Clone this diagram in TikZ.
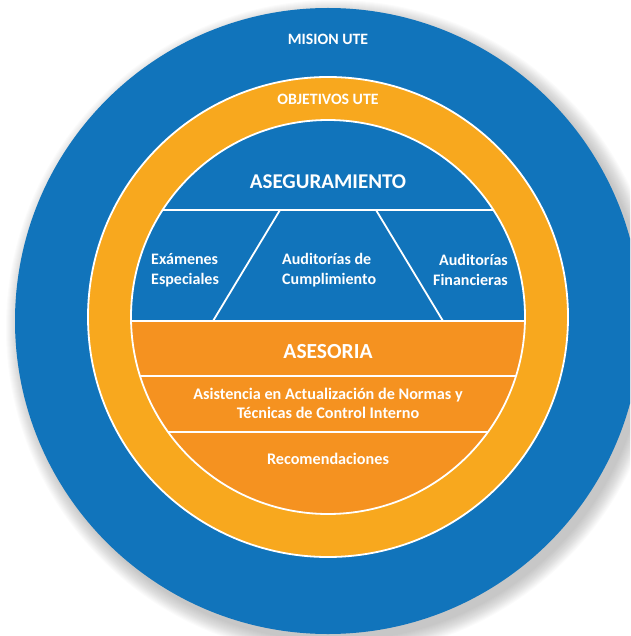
\documentclass[tikz,border=0pt]{standalone}
\usepackage{fontspec}
\setmainfont{Carlito}
\definecolor{uteblue}{RGB}{17,116,187}
\definecolor{ringorange}{RGB}{248,168,30}
\definecolor{coreorange}{RGB}{245,146,32}
\tikzset{
  lbl/.style={text=white, font=\bfseries, inner sep=0pt, align=center},
  sep/.style={draw=white, line width=1.8pt},
}
\begin{document}
\begin{tikzpicture}[x=1pt,y=-1pt]
\useasboundingbox (0,0) rectangle (630,636);
\clip (0,0) rectangle (630,636);
% soft shadow
\foreach \k in {1,...,16}{
  \fill[black, opacity=0.016] (334,328) circle[radius={312pt+\k pt}];
}
% outer blue circle
\fill[uteblue] (328,321) circle[radius=313pt];
% orange ring
\fill[ringorange, draw=white, line width=1.8pt] (328,317) circle[radius=240pt];
% inner core
\begin{scope}
  \clip (328,317) circle[radius=197pt];
  \fill[uteblue] (100,100) rectangle (560,321);
  \fill[coreorange] (100,321) rectangle (560,540);
  \draw[sep] (100,210) -- (560,210);
  \draw[sep] (100,321) -- (560,321);
  \draw[sep] (100,376) -- (560,376);
  \draw[sep] (100,432) -- (560,432);
  \draw[sep] (280,210) -- (213,321);
  \draw[sep] (376,210) -- (443,321);
\end{scope}
\draw[white, line width=1.8pt] (328,317) circle[radius=197pt];
% texts
\node[lbl, font=\bfseries\fontsize{15.8}{18}\selectfont] (mision) at (328,39) {MISION UTE};
\node[lbl, font=\bfseries\fontsize{15.8}{18}\selectfont] (obj) at (328,99) {OBJETIVOS UTE};
\node[lbl, font=\bfseries\fontsize{21}{24}\selectfont] (aseg) at (328,182) {ASEGURAMIENTO};
\node[lbl, align=left, anchor=west, font=\bfseries\fontsize{16}{20}\selectfont] (exam) at (151,270) {Exámenes\\Especiales};
\node[lbl, align=left, anchor=west, font=\bfseries\fontsize{16}{20}\selectfont] (cump) at (282,270) {Auditorías de\\Cumplimiento};
\node[lbl, align=right, anchor=east, font=\bfseries\fontsize{16}{20}\selectfont] (fin) at (508,270) {Auditorías\\Financieras};
\node[lbl, font=\bfseries\fontsize{21.5}{24}\selectfont] (ases) at (328,352) {ASESORIA};
\node[lbl, font=\bfseries\fontsize{16.2}{19}\selectfont] (asist) at (328,403) {Asistencia en Actualización de Normas y\\Técnicas de Control Interno};
\node[lbl, font=\bfseries\fontsize{16.2}{19}\selectfont] (recom) at (328,459) {Recomendaciones};
\end{tikzpicture}
\end{document}
